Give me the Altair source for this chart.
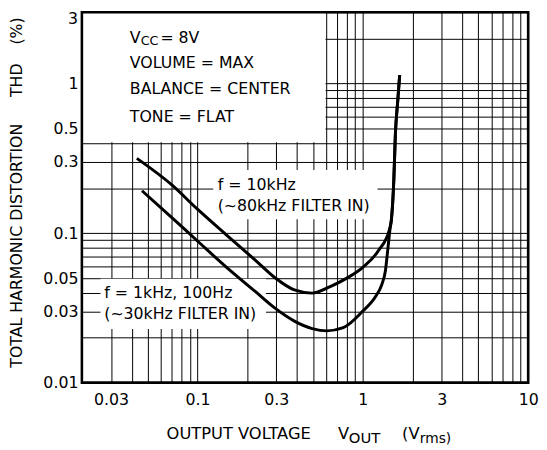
import json
import altair as alt
import pandas as pd

# ---------------- data ----------------
x_grid = [0.02, 0.03, 0.04, 0.05, 0.06, 0.07, 0.08, 0.09,
          0.1, 0.2, 0.3, 0.4, 0.5, 0.6, 0.7, 0.8, 0.9,
          1, 2, 3, 4, 5, 6, 7, 8, 9, 10]
x_labels = [0.03, 0.1, 0.3, 1, 3, 10]
y_grid = [0.01, 0.02, 0.03, 0.04, 0.05, 0.06, 0.07, 0.08, 0.09,
          0.1, 0.2, 0.3, 0.4, 0.5, 0.6, 0.7, 0.8, 0.9,
          1, 2, 3]
y_labels = [0.01, 0.03, 0.05, 0.1, 0.3, 0.5, 1]
y_top_label = 3

# f = 10kHz (~80kHz filter in)
vout_10k = [0.043, 0.07, 0.1, 0.15, 0.2235, 0.293, 0.3855, 0.494, 0.635,
            0.796, 1.0, 1.25, 1.45, 1.49, 1.54, 1.574, 1.626, 1.671]
thd_10k = [0.316, 0.21, 0.1445, 0.097, 0.066, 0.0505, 0.0417, 0.0397, 0.0439,
           0.0498, 0.059, 0.077, 0.106, 0.124, 0.2265, 0.46, 0.762, 1.14]

# f = 1kHz, 100Hz (~30kHz filter in)
vout_1k = [0.0462, 0.07, 0.1, 0.15, 0.2235, 0.293, 0.3855, 0.494, 0.607,
           0.762, 1.0, 1.2, 1.3, 1.37, 1.42, 1.46, 1.49, 1.54, 1.574, 1.626, 1.671]
thd_1k = [0.192, 0.127, 0.0886, 0.059, 0.0407, 0.0316, 0.0258, 0.023, 0.0222,
          0.0233, 0.0301, 0.038, 0.045, 0.056, 0.08, 0.106, 0.124, 0.2265, 0.46, 0.762, 1.14]

# white label boxes (data coordinates) that hide the grid
box_x = [0.02, 0.1245, 0.0259]
box_x2 = [0.595, 1.227, 0.2595]
box_y = [0.405, 0.1236, 0.0228]
box_y2 = [3.0, 0.264, 0.0496]

# annotation anchors (data coordinates)
note_text = ["VOLUME = MAX", "BALANCE = CENTER", "TONE = FLAT",
             "f = 10kHz", "(~80kHz FILTER IN)",
             "f = 1kHz, 100Hz", "(~30kHz FILTER IN)"]
note_x = [0.039, 0.039, 0.039, 0.1326, 0.1326, 0.0273, 0.0273]
note_y = [1.375, 0.913, 0.597, 0.210, 0.151, 0.0397, 0.0286]
vcc_x = 0.039
vcc_y = 2.0

# ---------------- chart ----------------
W, H = 453, 376
FONT = "DejaVu Sans"

xs = alt.Scale(type="log", domain=[0.02, 10], nice=False)
ys = alt.Scale(type="log", domain=[0.01, 3], nice=False)

x_expr = "indexof(%s, datum.value) >= 0 ? '' + datum.value : ''" % json.dumps(x_labels)
y_expr = "indexof(%s, datum.value) >= 0 ? '' + datum.value : ''" % json.dumps(y_labels)

x_axis = alt.Axis(values=x_grid, labelExpr=x_expr, title=None, grid=True,
                  ticks=False, tickSize=0, domain=False, labelPadding=17,
                  labelBaseline="middle", labelFlush=False, labelOverlap=False)
y_axis = alt.Axis(values=y_grid, labelExpr=y_expr, title=None, grid=True,
                  ticks=False, tickSize=0, domain=False, labelPadding=4,
                  labelFlush=False, labelOverlap=False)

curves = pd.concat([
    pd.DataFrame({"v": vout_10k, "thd": thd_10k, "s": "10k"}),
    pd.DataFrame({"v": vout_1k, "thd": thd_1k, "s": "1k"}),
])

boxes = pd.DataFrame({"x": box_x, "x2": box_x2, "y": box_y, "y2": box_y2})
notes = pd.DataFrame({"x": note_x, "y": note_y, "t": note_text})
vcc = pd.DataFrame({"x": [vcc_x], "y": [vcc_y]})
top_lab = pd.DataFrame({"x": [0.02], "y": [y_top_label], "t": [str(y_top_label)]})

box_layer = alt.Chart(boxes).mark_rect(fill="white", strokeWidth=0).encode(
    x=alt.X("x:Q", scale=xs, axis=x_axis),
    x2="x2:Q",
    y=alt.Y("y:Q", scale=ys, axis=y_axis),
    y2="y2:Q",
)

line_layer = alt.Chart(curves).mark_line(color="black", strokeWidth=3,
                                         interpolate="monotone").encode(
    x=alt.X("v:Q", scale=xs),
    y=alt.Y("thd:Q", scale=ys),
    detail="s:N",
)

note_layer = alt.Chart(notes).mark_text(align="left", baseline="middle",
                                        font=FONT, fontSize=16, color="black").encode(
    x=alt.X("x:Q", scale=xs), y=alt.Y("y:Q", scale=ys), text="t:N")

# top y label kept inside the page (the reference's "3" sits on the frame)
top_label_layer = alt.Chart(top_lab).mark_text(align="right", baseline="top",
                                               font=FONT, fontSize=16, color="black",
                                               dx=-4, dy=-1).encode(
    x=alt.X("x:Q", scale=xs), y=alt.Y("y:Q", scale=ys), text="t:N")

def vcc_part(txt, dx, dy, size):
    return alt.Chart(vcc).mark_text(align="left", baseline="middle", font=FONT,
                                    fontSize=size, color="black", dx=dx, dy=dy,
                                    text=txt).encode(
        x=alt.X("x:Q", scale=xs), y=alt.Y("y:Q", scale=ys))

def px_text(txt, x, y, size=16, angle=0, align="left", baseline="alphabetic"):
    return alt.Chart(alt.Data(values=[{}])).mark_text(
        text=txt, font=FONT, fontSize=size, color="black", align=align,
        baseline=baseline, angle=angle).encode(x=alt.value(x), y=alt.value(y))

frame = alt.Chart(alt.Data(values=[{}])).mark_rect(
    fillOpacity=0, stroke="black", strokeWidth=2.6).encode(
    x=alt.value(0), x2=alt.value(W), y=alt.value(0), y2=alt.value(H))

layers = [
    box_layer, line_layer, note_layer, top_label_layer,
    vcc_part("V", 0, 0, 16),
    vcc_part("CC", 11, 3, 13),
    vcc_part("= 8V", 31, 0, 16),
    # x title
    px_text("OUTPUT VOLTAGE", 86, 433, 16.5),
    px_text("V", 260, 433, 16.5),
    px_text("OUT", 271, 437, 15),
    px_text("(V", 325, 433, 16.5),
    px_text("rms)", 343, 437, 14),
    # y title
    px_text("TOTAL HARMONIC DISTORTION", -66, 237, angle=270, align="center", baseline="middle"),
    px_text("THD", -66, 69, angle=270, align="center", baseline="middle"),
    px_text("(%)", -66, 19, angle=270, align="center", baseline="middle"),
    frame,
]

chart = alt.layer(*layers).properties(
    width=W, height=H,
    autosize=alt.AutoSizeParams(type="none"),
    padding={"left": 75, "top": 1, "right": 11, "bottom": 60},
).configure_view(strokeWidth=0).configure_axis(
    gridColor="black", gridWidth=1, gridOpacity=1,
    labelFont=FONT, labelFontSize=16, labelColor="black",
)

chart.save("out.html", embed_options={"renderer": "svg", "actions": False})
